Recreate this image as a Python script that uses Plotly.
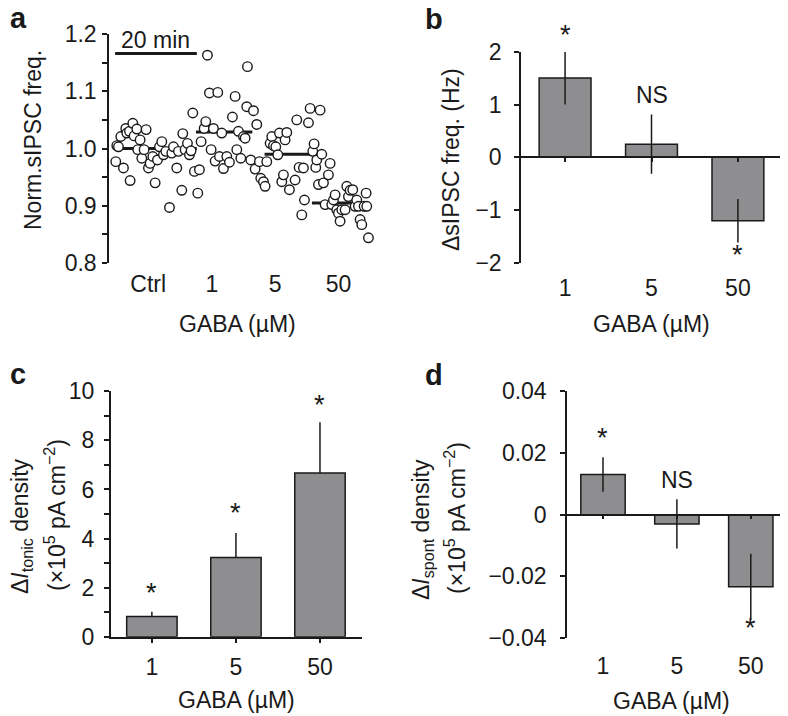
import plotly.graph_objects as go

# the page body has an 8 px margin, so the figure is drawn 8 px in and 16 px smaller
OFF = 8
W, H = 788 - OFF, 716 - OFF

# ---- panel a: normalised sIPSC frequency over time (min) ----
time_min = [0.16, 0.41, 0.82, 1.39, 2.04, 2.61, 2.86, 3.51, 3.67, 4.33, 4.65, 5.31, 5.55, 6.12,
            6.53, 7.10, 7.59, 8.16, 8.57, 9.22, 9.80, 10.37, 10.86, 11.43, 11.84, 12.41, 13.31,
            13.88, 14.29, 15.10, 15.51, 16.33, 16.57, 17.14, 17.71, 18.20, 18.6, 19.02, 19.43,
            20.24, 20.65,
            21.06, 21.80, 22.20, 22.61, 23.10, 23.51, 24.08, 24.49, 25.14, 25.55, 26.12, 26.53,
            27.35, 28.00, 28.73, 29.39, 29.80, 30.20, 30.78, 31.43, 31.84, 32.24, 32.41, 33.22,
            33.88, 34.29, 34.69, 35.35, 35.67, 36.33, 36.73,
            37.14, 37.96, 38.37, 38.78, 39.35, 39.84, 40.24, 40.82, 41.22, 41.63, 42.04, 42.69,
            44.08, 44.49, 45.06, 45.71, 46.12, 46.37, 47.35, 47.76, 48.41, 48.73, 49.14, 49.39,
            49.80, 50.20, 50.61, 51.02, 51.43,
            52.24, 52.65, 53.06, 53.47, 53.88, 54.29, 54.69, 55.10, 55.51, 56.33, 56.73, 57.14,
            57.55, 58.20, 58.78, 59.18, 59.59, 60.00, 60.41, 60.98, 61.47, 61.63, 62.04]
norm_freq = [0.977, 1.005, 1.003, 1.021, 0.966, 1.035, 1.027, 1.030, 0.944, 1.044, 1.022, 1.034,
             0.998, 1.015, 0.983, 0.998, 1.033, 0.966, 0.974, 0.986, 0.940, 0.980, 1.003, 1.012,
             0.989, 0.995, 0.897, 0.992, 1.003, 0.966, 0.995, 0.927, 1.026, 0.998, 1.009, 0.989,
             0.996, 1.062, 0.960, 0.922, 0.963,
             1.012, 1.035, 1.047, 1.163, 1.097, 0.998, 1.035, 0.978, 1.098, 0.986, 1.027, 0.965,
             0.986, 0.976, 1.055, 1.091, 0.998, 1.030, 0.983, 1.021, 1.018, 1.073, 1.143, 0.980,
             1.066, 0.964, 1.042, 0.977, 0.948, 0.942, 0.934,
             0.977, 1.009, 1.021, 1.005, 1.003, 0.989, 1.027, 0.942, 0.954, 1.015, 1.028, 0.928,
             0.945, 1.050, 0.967, 0.884, 0.966, 0.910, 1.045, 1.070, 0.995, 1.008, 0.967, 0.980,
             0.937, 1.067, 0.990, 0.940, 0.902,
             0.954, 0.974, 0.902, 0.910, 0.919, 0.893, 0.887, 0.873, 0.893, 0.893, 0.934, 0.916,
             0.927, 0.928, 0.899, 0.910, 0.899, 0.876, 0.867, 0.899, 0.922, 0.899, 0.844]
mean_start = [0.0, 19.8, 36.6, 48.2]
mean_end = [20.0, 33.6, 50.2, 61.6]
mean_val = [1.0, 1.029, 0.99, 0.905]
a_tick_pos = [8.1, 23.7, 39.2, 54.7]
a_tick_text = ['Ctrl', '1', '5', '50']
scale_bar_t = [0, 20]
scale_bar_y = 1.166

# ---- panels b-d ----
gaba = ['1', '5', '50']
d_sipsc = [1.5, 0.25, -1.2]
d_sipsc_err = [0.5, 0.56, 0.41]
b_marks = ['*', 'NS', '*']
b_mark_y = [2.32, 1.18, -1.84]

i_tonic = [0.82, 3.23, 6.67]
i_tonic_err = [0.2, 1.0, 2.07]
c_marks = ['*', '*', '*']
c_mark_y = [1.78, 5.04, 9.45]

i_spont = [0.013, -0.003, -0.0234]
i_spont_err = [0.0056, 0.008, 0.0107]
d_marks = ['*', 'NS', '*']
d_mark_y = [0.0249, 0.0113, -0.0368]

INK = '#1a1a1a'
BAR = '#8e8e90'
FONT = 'Liberation Sans, Arial, Helvetica, sans-serif'
FS = 23


def fx(px):
    return (px - OFF) / W


def fy(py):
    return 1 - (py - OFF) / H


fig = go.Figure()

# panel a
for s, e, m in zip(mean_start, mean_end, mean_val):
    fig.add_trace(go.Scatter(x=[s, e], y=[m, m], mode='lines', line=dict(color=INK, width=3),
                             xaxis='x', yaxis='y', hoverinfo='skip'))
fig.add_trace(go.Scatter(x=time_min, y=norm_freq, mode='markers', cliponaxis=False,
                         marker=dict(size=9.5, color='white', line=dict(color=INK, width=1.4)),
                         xaxis='x', yaxis='y'))
fig.add_trace(go.Scatter(x=scale_bar_t, y=[scale_bar_y] * 2, mode='lines', cliponaxis=False,
                         line=dict(color=INK, width=3), xaxis='x', yaxis='y'))

bar_style = dict(marker=dict(color=BAR, line=dict(color=INK, width=1.5)), width=0.6)
err_style = dict(type='data', color=INK, thickness=1.5, width=0)

fig.add_trace(go.Bar(x=[0, 1, 2], y=d_sipsc, xaxis='x2', yaxis='y2',
                     error_y=dict(array=d_sipsc_err, **err_style), **bar_style))
fig.add_trace(go.Bar(x=[0, 1, 2], y=i_tonic, xaxis='x3', yaxis='y3',
                     error_y=dict(array=i_tonic_err, arrayminus=[0, 0, 0], symmetric=False,
                                  **err_style), **bar_style))
fig.add_trace(go.Bar(x=[0, 1, 2], y=i_spont, xaxis='x4', yaxis='y4',
                     error_y=dict(array=i_spont_err, **err_style), **bar_style))

ax_common = dict(showgrid=False, zeroline=False, linecolor=INK, linewidth=1.5, automargin=False,
                 tickcolor=INK, tickwidth=1.5, ticklen=5)

dom = {
    'a': ([fx(109), fx(374.4)], [fy(263), fy(34)]),
    'b': ([fx(521), fx(782)], [fy(263), fy(51.7)]),
    'c': ([fx(110.7), fx(362)], [fy(636.7), fy(391.3)]),
    'd': ([fx(567), fx(787)], [fy(638), fy(391.3)]),
}
yrng = {'b': (-2, 2), 'c': (0, 10), 'd': (-0.04, 0.04)}


def to_paper(panel, v):
    lo, hi = yrng[panel]
    d0, d1 = dom[panel][1]
    return d0 + (v - lo) / (hi - lo) * (d1 - d0)


fig.update_layout(
    template='none',
    width=W, height=H, margin=dict(l=0, r=0, t=0, b=0, pad=0, autoexpand=False),
    paper_bgcolor='white', plot_bgcolor='white', showlegend=False,
    font=dict(family=FONT, size=FS, color=INK),
    xaxis=dict(domain=dom['a'][0], range=[-1.5, 63.5], anchor='y', showline=False, ticks='',
               tickvals=a_tick_pos, ticktext=a_tick_text, ticklabelstandoff=5,
               **ax_common),
    yaxis=dict(domain=dom['a'][1], range=[0.8, 1.2], anchor='x', showline=True, ticks='outside',
               dtick=0.1, tickformat='.1f', ticklabelstandoff=1,
               minor=dict(dtick=0.05, ticks='outside', ticklen=5, tickcolor=INK, tickwidth=1.5),
               **ax_common),
    # x axis of b sits on the zero line, its labels are pushed down to the bottom
    xaxis2=dict(domain=dom['b'][0], range=[-0.51, 2.51], anchor='free',
                position=to_paper('b', 0), showline=True, ticks='outside',
                tickvals=[0, 1, 2], ticktext=gaba, ticklabelstandoff=106,
                **dict(ax_common, ticklen=4)),
    yaxis2=dict(domain=dom['b'][1], range=list(yrng['b']), anchor='x2', showline=True,
                ticks='outside', dtick=1, ticklabelstandoff=8, **ax_common),
    xaxis3=dict(domain=dom['c'][0], range=[-0.49, 2.5], anchor='y3', showline=True,
                ticks='outside', tickvals=[0, 1, 2], ticktext=gaba, ticklabelstandoff=4,
                **ax_common),
    yaxis3=dict(domain=dom['c'][1], range=list(yrng['c']), anchor='x3', showline=True,
                ticks='outside', dtick=2, ticklabelstandoff=5,
                minor=dict(dtick=1, ticks='outside', ticklen=5, tickcolor=INK, tickwidth=1.5),
                **ax_common),
    xaxis4=dict(domain=dom['d'][0], range=[-0.487, 2.49], anchor='free',
                position=to_paper('d', 0), showline=True, ticks='outside',
                tickvals=[0, 1, 2], ticktext=gaba, ticklabelstandoff=127,
                **dict(ax_common, ticklen=4)),
    yaxis4=dict(domain=dom['d'][1], range=list(yrng['d']), anchor='x4', showline=True,
                ticks='outside', dtick=0.02, ticklabelstandoff=9, **ax_common),
)

ann = []
# significance marks
for panel, xr, marks, ys in [('b', 'x2', b_marks, b_mark_y), ('c', 'x3', c_marks, c_mark_y),
                             ('d', 'x4', d_marks, d_mark_y)]:
    for i, (m, yv) in enumerate(zip(marks, ys)):
        ann.append(dict(x=i, y=to_paper(panel, yv), xref=xr, yref='paper', text=m,
                        showarrow=False, xanchor='center', yanchor='middle',
                        font=dict(size=FS if m == 'NS' else 27)))
ann.append(dict(x=10, y=1.19, xref='x', yref='y', text='20 min', showarrow=False,
                xanchor='center', yanchor='middle'))

# panel letters
for letter, px, py in [('a', 18, 18), ('b', 434, 19), ('c', 18, 374), ('d', 434, 375)]:
    ann.append(dict(x=fx(px), y=fy(py), xref='paper', yref='paper', text=f'<b>{letter}</b>',
                    showarrow=False, xanchor='center', yanchor='middle', font=dict(size=29)))

# axis titles
for text, px, py in [('GABA (\u00b5M)', 237, 324), ('GABA (\u00b5M)', 651, 324),
                     ('GABA (\u00b5M)', 236, 700), ('GABA (\u00b5M)', 671, 701)]:
    ann.append(dict(x=fx(px), y=fy(py), xref='paper', yref='paper', text=text, showarrow=False,
                    xanchor='center', yanchor='middle'))
for text, px, py in [('Norm.sIPSC freq.', 33, 140),
                     ('\u0394sIPSC freq. (Hz)', 451, 160),
                     ('\u0394<i>I</i><sub>tonic</sub> density', 21, 526),
                     ('(\u00d710<sup>5</sup> pA cm<sup>\u22122</sup>)', 55, 515),
                     ('\u0394<i>I</i><sub>spont</sub> density', 422, 530),
                     ('(\u00d710<sup>5</sup> pA cm<sup>\u22122</sup>)', 455, 518)]:
    ann.append(dict(x=fx(px), y=fy(py), xref='paper', yref='paper', text=text, textangle=-90,
                    showarrow=False, xanchor='center', yanchor='middle'))

fig.update_layout(annotations=ann)
fig.write_html("out.html")
